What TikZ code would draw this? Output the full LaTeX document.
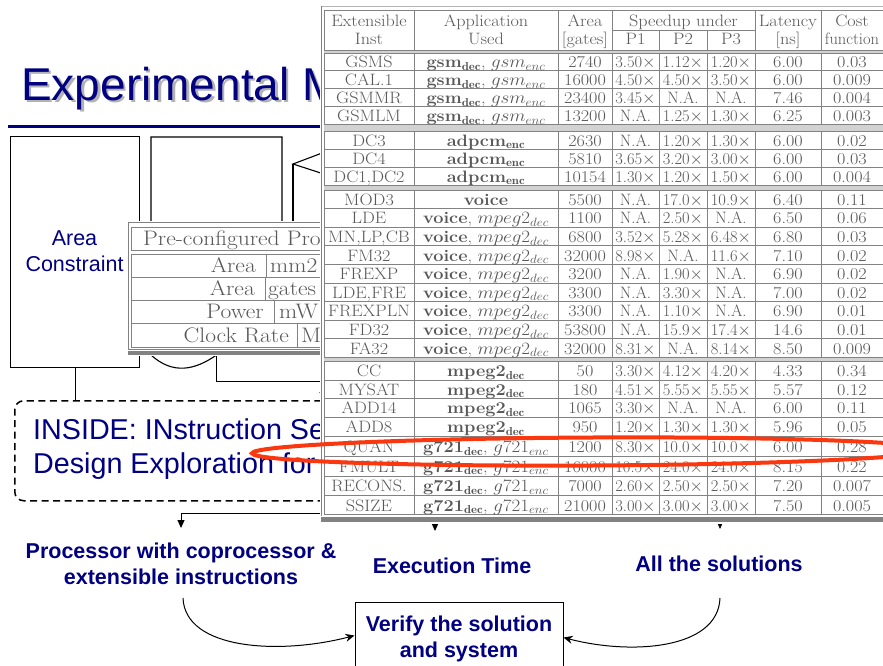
\documentclass[tikz,border=0pt]{standalone}
\usepackage{fontspec}
\usepackage{graphicx}
\usetikzlibrary{arrows.meta}
\newfontfamily\arialf{Liberation Sans}
\definecolor{slnavy}{RGB}{0,0,128}
\definecolor{tabtext}{RGB}{88,88,88}
\definecolor{tabline}{RGB}{130,130,130}
\definecolor{tabband}{RGB}{210,210,210}
\definecolor{ovalred}{RGB}{250,55,15}
\newcommand\tms{$\times$}
\newcommand\tstretch[1]{\scalebox{1.1}[1]{#1}}
\newcommand\pstretch[1]{\scalebox{1.12}[1]{#1}}
\newcommand\appgsm{\textbf{gsm}$_{\mathbf{dec}}$, $gsm_{enc}$}
\newcommand\appadpcm{\textbf{adpcm}$_{\mathbf{enc}}$}
\newcommand\appvoice{\textbf{voice}}
\newcommand\appvm{\textbf{voice}, $mpeg2_{dec}$}
\newcommand\appmpeg{\textbf{mpeg2}$_{\mathbf{dec}}$}
\newcommand\appg{\textbf{g721}$_{\mathbf{dec}}$, $g721_{enc}$}
\begin{document}
\begin{tikzpicture}[x=1pt,y=-1pt,
  every node/.style={inner sep=0pt},
  sans/.style={font=\arialf\fontsize{21.5}{26}\selectfont},
  bsans/.style={font=\arialf\bfseries\fontsize{21.5}{26}\selectfont},
  bodyline/.style={line width=1.1pt},
  arr/.style={-{Triangle[length=8pt,width=7pt]}, line width=1pt},
  arrsmall/.style={-{Triangle[length=6pt,width=5pt]}, line width=0.8pt},
  curvarr/.style={-{Stealth[length=9pt,width=8pt]}, line width=1pt},
  tcell/.style={anchor=base, text=tabtext, font=\fontsize{16.5}{19}\selectfont},
  pcell/.style={text=tabtext, font=\fontsize{21}{24}\selectfont},
  rule/.style={draw=tabline, line width=0.9pt},
]
\useasboundingbox (0,0) rectangle (883,665);
\clip (0,0) rectangle (883,665);

% slide title with its shadow and rule
\node[anchor=base west, text=black!30, font=\arialf\fontsize{46}{50}\selectfont] (titleshade) at (23.5,102.5) {Experimental M};
\node[anchor=base west, text=slnavy, font=\arialf\fontsize{46}{50}\selectfont] (title) at (21,100) {Experimental M};
\draw[slnavy, line width=3pt] (8,126.5) -- (330,126.5);

% area constraint box
\node[draw, bodyline, minimum width=129, minimum height=231, anchor=north west] (areabox) at (10,136) {};
\node[sans, text=slnavy, align=center] (arealabel) at (74.5,251) {Area\\Constraint};

% document shape with wavy bottom
\draw[bodyline] (151,355) -- (151,137) -- (282,137) -- (282,355)
  .. controls (260,335) and (238,340) .. (216.5,355)
  .. controls (195,370) and (173,375) .. (151,355) -- cycle;
\coordinate (docbot) at (216.5,355);

% third input shape
\draw[bodyline] (330,150) -- (293,164) -- (330,176);
\draw[bodyline] (293,164) -- (293,225);

% dashed tool box
\node[draw, line width=1.5pt, dash pattern=on 7pt off 4.5pt, rounded corners=9pt,
  minimum width=856, minimum height=100, anchor=north west] (dashbox) at (14,400) {};
\node[anchor=west, align=left, text=slnavy, font=\arialf\fontsize{28.7}{34}\selectfont] (inside) at (33,449)
  {INSIDE: INstruction Se\\Design Exploration for};

% connectors around the tool box
\draw[bodyline] (areabox.south) -- (areabox.south |- dashbox.north);
\coordinate (dashin) at (323,400);
\draw[arr] (docbot) -- ++(0,26) -| (dashin);
\coordinate (dashout) at (323,500);
\coordinate (proctop) at (181,528);
\draw[arr] (dashout) -- ++(0,13) -| (proctop);
\coordinate (exectop) at (435,531);
\coordinate (alltop) at (720,529);
\draw[arr] (exectop |- dashbox.south) -- (exectop);
\draw[arrsmall] (alltop |- dashbox.south) -- (alltop);

% pre-configured processor table
\fill[white] (127,221) rectangle (340,356);
\draw[rule] (128,222) rectangle (340,349);
\fill[tabline] (128,351) rectangle (340,355);
\draw[rule] (131,227) rectangle (340,250);
\draw[rule] (131,254) rectangle (340,347);
\foreach \ly in {277,300,323} \draw[rule] (131,\ly) -- (340,\ly);
\draw[rule] (266,254) -- (266,277);
\draw[rule] (265,277) -- (265,300);
\draw[rule] (274,300) -- (274,323);
\draw[rule] (297,323) -- (297,347);
\draw[rule] (322,254) -- (322,300);
\node[pcell, anchor=base west] (pchead) at (143,245) {\pstretch{Pre-configured Pro}};
\node[pcell, anchor=base east] (parea) at (256,272) {\pstretch{Area}};
\node[pcell, anchor=base west] (pmm) at (270,272) {\pstretch{mm2}};
\node[pcell, anchor=base east] (pareag) at (255,295) {\pstretch{Area}};
\node[pcell, anchor=base west] (pgates) at (268,295) {\pstretch{gates}};
\node[pcell, anchor=base east] (ppow) at (264,318) {\pstretch{Power}};
\node[pcell, anchor=base west] (pmw) at (279,318) {\pstretch{mW}};
\node[pcell, anchor=base east] (pclk) at (289,342) {\pstretch{Clock Rate}};
\node[pcell, anchor=base west] (pmhz) at (301,342) {\pstretch{M}};

% extensible instruction results table
\fill[white] (320,4) rectangle (890,524);
\draw[draw=tabline!60, line width=0.8pt] (321.5,6) -- (890,6);
\draw[rule] (321.5,6) -- (321.5,516);
\fill[tabline] (321,516.5) rectangle (890,522);
\draw[rule] (324,10) -- (890,10);
\foreach \vx in {324,414,558,612,755,821} \draw[rule] (\vx,10) -- (\vx,514.5);
\foreach \vx in {659,707} \draw[rule] (\vx,30) -- (\vx,514.5);
\draw[rule] (612,30) -- (755,30);
\foreach \hy in {70.5,88.5,106.5,149,167,208.6,227.2,245.8,264.4,283,301.6,320.2,338.8,380,398.5,417,436.5,456.5,476,495.5,514.5}
  \draw[rule] (324,\hy) -- (890,\hy);
\foreach \ba/\bb in {50/53,124.5/131,185/190,357.4/361} {
  \fill[tabband] (324,\ba) rectangle (890,\bb);
  \draw[rule] (324,\ba) -- (890,\ba) (324,\bb) -- (890,\bb);
}
% header
\node[tcell] (hinsta) at (369,26) {\tstretch{Extensible}};
\node[tcell] (hinstb) at (369,44) {\tstretch{Inst}};
\node[tcell] (hAppa) at (486,26) {\tstretch{Application}};
\node[tcell] (hAppb) at (486,44) {\tstretch{Used}};
\node[tcell] (hareaa) at (585,26) {\tstretch{Area}};
\node[tcell] (hareab) at (585,44) {\tstretch{[gates]}};
\node[tcell] (hspeed) at (683.5,26) {\tstretch{Speedup under}};
\node[tcell] (hpa) at (635.5,44) {\tstretch{P1}};
\node[tcell] (hpb) at (683,44) {\tstretch{P2}};
\node[tcell] (hpc) at (731,44) {\tstretch{P3}};
\node[tcell] (hlata) at (788,26) {\tstretch{Latency}};
\node[tcell] (hlatb) at (788,44) {\tstretch{[ns]}};
\node[tcell] (hcosta) at (852,26) {\tstretch{Cost}};
\node[tcell] (hcostb) at (852,44) {function};
% body rows
\foreach \cy/\qa/\qb/\qc/\qd/\qe/\qf/\qg/\qh [count=\n] in {
  61.5/GSMS/\appgsm/2740/3.50\tms/1.12\tms/1.20\tms/6.00/0.03,
  79.5/CAL.1/\appgsm/16000/4.50\tms/4.50\tms/3.50\tms/6.00/0.009,
  97.5/GSMMR/\appgsm/23400/3.45\tms/N.A./N.A./7.46/0.004,
  115.5/GSMLM/\appgsm/13200/N.A./1.25\tms/1.30\tms/6.25/0.003,
  140/DC3/\appadpcm/2630/N.A./1.20\tms/1.30\tms/6.00/0.02,
  158/DC4/\appadpcm/5810/3.65\tms/3.20\tms/3.00\tms/6.00/0.03,
  176/{DC1,DC2}/\appadpcm/10154/1.30\tms/1.20\tms/1.50\tms/6.00/0.004,
  199.3/MOD3/\appvoice/5500/N.A./17.0\tms/10.9\tms/6.40/0.11,
  217.9/LDE/\appvm/1100/N.A./2.50\tms/N.A./6.50/0.06,
  236.5/{MN,LP,CB}/\appvm/6800/3.52\tms/5.28\tms/6.48\tms/6.80/0.03,
  255.1/FM32/\appvm/32000/8.98\tms/N.A./11.6\tms/7.10/0.02,
  273.7/FREXP/\appvm/3200/N.A./1.90\tms/N.A./6.90/0.02,
  292.3/{LDE,FRE}/\appvm/3300/N.A./3.30\tms/N.A./7.00/0.02,
  310.9/FREXPLN/\appvm/3300/N.A./1.10\tms/N.A./6.90/0.01,
  329.5/FD32/\appvm/53800/N.A./15.9\tms/17.4\tms/14.6/0.01,
  348.1/FA32/\appvm/32000/8.31\tms/N.A./8.14\tms/8.50/0.009,
  370.5/CC/\appmpeg/50/3.30\tms/4.12\tms/4.20\tms/4.33/0.34,
  389.25/MYSAT/\appmpeg/180/4.51\tms/5.55\tms/5.55\tms/5.57/0.12,
  407.75/ADD14/\appmpeg/1065/3.30\tms/N.A./N.A./6.00/0.11,
  426.75/ADD8/\appmpeg/950/1.20\tms/1.30\tms/1.30\tms/5.96/0.05,
  446.5/QUAN/\appg/1200/8.30\tms/10.0\tms/10.0\tms/6.00/0.28,
  466.25/FMULT/\appg/16000/10.5\tms/24.0\tms/24.0\tms/8.15/0.22,
  485.75/RECONS./\appg/7000/2.60\tms/2.50\tms/2.50\tms/7.20/0.007,
  505/SSIZE/\appg/21000/3.00\tms/3.00\tms/3.00\tms/7.50/0.005} {
  \node[tcell] (r\n-inst) at (369,{\cy+6}) {\tstretch{\qa}};
  \node[tcell] (r\n-app) at (486,{\cy+6}) {\tstretch{\qb}};
  \node[tcell] (r\n-area) at (585,{\cy+6}) {\tstretch{\qc}};
  \node[tcell] (r\n-pa) at (635.5,{\cy+6}) {\qd};
  \node[tcell] (r\n-pb) at (683,{\cy+6}) {\qe};
  \node[tcell] (r\n-pc) at (731,{\cy+6}) {\qf};
  \node[tcell] (r\n-lat) at (788,{\cy+6}) {\tstretch{\qg}};
  \node[tcell] (r\n-cost) at (852,{\cy+6}) {\tstretch{\qh}};
}

% highlight around the QUAN row
\draw[ovalred, line width=4pt] (591,451.5) circle [x radius=339, y radius=14, rotate=0.3];

% outputs and verification
\node[bsans, text=slnavy, align=center] (proc) at (181,564) {Processor with coprocessor \&\\extensible instructions};
\node[bsans, text=slnavy] (exec) at (452,566) {Execution Time};
\node[bsans, text=slnavy] (allsol) at (719,564) {All the solutions};
\node[draw, line width=1pt, minimum width=208, minimum height=72, bsans, text=slnavy, align=center, anchor=north] (verify) at (459,602) {Verify the solution\\and system};
\coordinate (procfoot) at (183,598);
\coordinate (allfoot) at (720,598);
\draw[curvarr] (procfoot) .. controls (185,650) and (280,655) .. ([yshift=3pt]verify.west);
\draw[curvarr] (allfoot) .. controls (718,650) and (630,655) .. ([yshift=1pt]verify.east);
\end{tikzpicture}
\end{document}
